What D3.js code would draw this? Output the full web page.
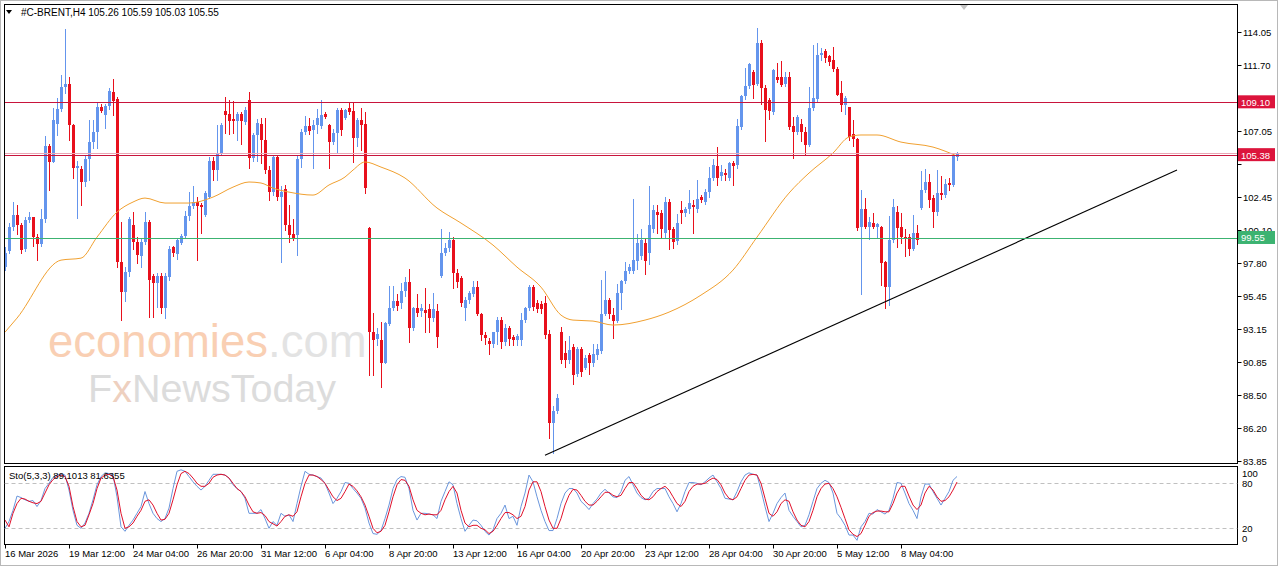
<!DOCTYPE html>
<html><head><meta charset="utf-8">
<script src="https://cdn.jsdelivr.net/npm/d3@7"></script>
<style>body{margin:0;background:#fff}svg{display:block}text{font-family:"Liberation Sans",Arial,sans-serif}</style>
</head><body><svg id="c" width="1280" height="567"></svg>
<script>
// ---------- DATA ----------
const symbol = "#C-BRENT,H4";
const lastBar = [105.26, 105.59, 105.03, 105.55];
const open = [97.5,98.6,100.3,101.15,100.45,98.8,100.85,101.0,99.6,99.1,
100.9,106.0,104.9,107.6,108.6,110.2,110.4,107.5,104.5,104.4,
103.5,105.1,106.3,107.0,108.75,108.2,108.85,109.8,109.3,97.85,
95.75,97.15,100.45,99.3,98.3,99.3,100.7,96.9,96.35,96.9,
94.6,96.8,98.9,98.4,99.2,99.7,101.1,101.8,102.1,101.9,
101.2,102.45,105.0,104.35,105.5,108.5,108.3,107.95,107.8,108.3,
107.7,109.25,105.2,106.8,107.6,106.45,104.35,102.8,105.25,102.4,
103.0,100.45,99.8,99.75,105.1,107.0,107.4,107.15,107.5,107.4,
108.3,107.5,106.3,106.95,108.55,108.0,108.7,108.5,106.6,107.85,
107.6,100.25,92.9,92.45,92.4,90.75,93.5,94.6,95.1,94.95,
95.85,96.45,93.2,94.6,94.4,94.5,94.55,93.9,94.4,96.9,
98.5,98.85,99.4,97.1,96.7,94.65,95.2,95.6,96.1,94.2,
92.75,92.3,92.1,92.9,93.8,92.2,93.2,92.6,92.35,92.4,
93.8,94.6,96.1,94.95,94.9,95.0,92.8,86.5,87.4,92.95,
91.45,90.95,91.9,89.95,91.7,90.4,91.3,90.75,91.3,91.6,
94.2,95.2,94.15,93.7,95.7,96.5,97.2,97.2,97.9,98.3,
99.2,98.5,100.2,101.4,101.3,99.9,102.1,100.15,99.35,101.5,
101.3,101.6,101.85,101.6,102.4,102.1,102.8,103.8,104.65,103.9,
104.1,103.75,104.85,104.7,107.35,109.55,110.25,111.25,110.4,113.25,
110.1,109.25,108.4,110.9,110.85,110.4,110.85,107.4,107.0,107.6,
107.0,106.1,108.7,109.3,112.4,112.7,112.35,112.1,111.45,109.75,
108.9,108.75,106.85,106.55,100.3,101.6,100.3,100.6,100.35,100.3,
97.85,96.1,99.4,101.35,100.3,99.65,99.65,98.8,99.9,101.65,
102.9,103.5,102.35,101.35,102.7,102.6,103.4,103.3,105.26];
const high = [98.9,100.6,102.05,101.85,100.6,101.05,101.4,101.05,99.8,101.6,
106.7,106.2,108.7,109.4,111.0,114.25,110.9,107.6,105.0,104.65,
105.4,107.85,107.85,109.1,109.0,109.0,110.1,110.75,109.5,100.65,
97.5,101.05,101.4,99.6,99.5,101.4,100.8,97.0,97.05,97.05,
97.1,99.0,99.0,99.55,99.8,101.45,102.8,103.2,102.4,102.0,
102.85,105.25,105.25,107.5,107.65,109.45,109.25,109.2,108.4,108.4,
108.8,109.8,106.95,107.9,108.0,108.0,104.6,105.4,105.4,103.2,
103.3,101.9,100.9,105.4,107.2,108.15,108.0,107.85,108.65,109.25,
108.4,107.6,107.2,108.7,108.7,108.6,109.1,109.1,108.0,108.7,
108.4,100.3,94.3,93.2,93.6,93.6,96.2,96.2,95.6,96.35,
96.8,97.4,94.7,95.6,94.9,96.0,94.9,95.7,94.9,100.2,
99.2,100.0,99.6,97.35,96.9,95.4,95.8,96.5,96.5,94.3,
92.9,92.5,92.9,94.0,94.0,93.5,93.35,92.7,92.8,94.25,
94.7,96.25,96.25,95.2,95.1,95.45,93.1,87.75,88.6,93.3,
92.3,92.65,92.1,91.85,91.85,91.3,91.45,92.1,92.1,96.6,
97.2,95.35,94.65,96.3,96.6,97.85,97.7,102.3,99.85,100.2,
99.5,103.2,101.85,101.9,101.5,102.45,102.3,100.35,101.25,102.15,
101.75,102.95,102.2,103.6,102.6,103.0,104.55,105.1,105.95,104.7,
104.4,104.9,105.0,107.95,109.65,111.5,111.9,111.4,114.3,113.5,
110.3,109.4,111.45,111.85,112.0,111.25,111.25,108.1,108.2,107.95,
107.35,110.2,113.1,113.3,112.9,112.85,112.45,113.0,111.6,110.6,
109.55,108.75,107.85,106.6,102.9,102.35,101.0,101.3,100.6,100.4,
97.9,101.1,102.3,101.8,101.3,100.2,99.8,101.2,100.45,104.3,
104.4,104.05,102.6,104.35,103.9,103.7,103.8,105.5,105.59];
const low = [97.3,98.5,100.1,99.8,98.5,98.6,100.65,99.0,98.0,99.0,
100.7,102.9,104.9,106.8,108.5,109.75,106.45,103.8,100.95,101.9,
103.2,103.6,105.9,105.9,108.4,107.3,108.6,108.2,97.5,93.75,
95.1,96.9,98.8,97.8,97.5,99.1,94.0,94.0,94.7,94.3,
93.9,96.6,98.3,98.1,99.1,99.6,100.8,101.65,98.0,99.9,
101.1,102.35,103.6,103.6,105.4,106.95,106.9,106.95,106.45,106.2,
107.55,104.5,105.0,105.0,104.8,104.1,102.2,102.6,102.2,97.85,
100.1,99.3,99.4,98.35,104.55,106.9,106.85,104.5,106.95,107.3,
108.0,104.5,106.15,105.5,106.8,107.9,108.3,104.9,106.0,105.75,
102.7,89.9,89.9,92.0,89.05,90.75,93.4,94.45,94.45,94.6,
95.5,92.2,93.1,94.05,94.05,92.9,92.9,93.7,91.9,96.8,
98.35,98.65,96.0,96.1,94.75,93.75,95.0,95.45,94.1,92.35,
92.1,91.4,91.9,92.1,91.8,92.0,92.0,92.0,92.0,92.0,
93.6,94.45,94.5,94.35,94.3,92.5,85.5,84.4,87.2,90.75,
90.5,90.75,89.25,89.85,89.85,90.3,90.0,90.55,91.0,91.45,
94.1,93.95,92.5,93.6,94.55,96.35,97.05,97.05,97.4,98.1,
97.0,97.75,100.0,99.9,99.6,99.65,98.8,98.85,99.15,100.6,
101.1,101.3,99.9,101.4,102.1,101.95,102.45,103.6,103.3,103.6,
103.6,103.6,103.3,104.5,107.2,109.3,110.1,109.4,110.3,109.0,
106.4,107.9,108.25,110.5,110.25,110.25,107.2,105.2,106.85,106.4,
105.4,106.0,108.55,109.2,112.1,111.95,111.7,111.3,109.6,108.5,
108.3,106.45,106.0,100.1,95.6,100.25,99.5,100.25,99.6,96.25,
94.6,94.8,99.3,98.9,99.2,98.3,98.35,98.7,99.1,101.6,
102.8,101.7,100.3,101.2,102.3,102.4,102.9,103.2,105.03];
const close = [98.5,100.3,101.15,100.45,98.7,100.85,101.0,99.6,99.1,100.9,
106.0,104.9,107.85,108.6,110.2,110.4,107.5,104.5,104.6,103.5,
105.1,106.3,107.0,108.75,108.5,108.85,109.9,109.2,97.85,95.75,
97.15,100.9,99.25,98.35,99.3,100.7,96.6,96.4,96.9,94.6,
96.85,98.8,98.5,99.4,99.7,101.1,101.8,102.05,101.8,101.75,
102.7,105.0,104.35,105.55,107.5,108.2,107.8,107.8,108.3,107.8,
108.55,105.2,106.8,107.65,106.45,104.35,102.8,105.25,102.4,102.8,
100.45,99.75,99.5,105.1,107.0,107.4,107.1,107.5,108.0,108.2,
108.1,106.3,106.95,108.55,107.15,108.55,108.4,106.6,107.85,107.5,
103.05,92.9,92.4,92.8,90.75,93.55,94.6,95.1,94.75,95.85,
96.45,93.2,94.6,94.25,94.65,94.25,93.9,94.55,92.6,98.5,
98.85,99.4,97.1,96.45,95.0,95.2,95.65,96.1,94.2,92.7,
92.5,92.1,92.9,93.8,92.2,93.2,92.45,92.4,92.65,93.8,
94.6,96.1,94.7,94.55,94.55,92.7,86.5,87.4,88.3,90.95,
90.95,91.65,89.9,91.7,90.1,91.1,90.75,91.35,91.75,94.2,
95.2,94.2,93.7,95.7,96.5,97.2,97.5,98.0,99.2,99.4,
97.95,100.45,101.5,101.2,100.2,102.1,100.1,99.3,100.6,101.3,
101.6,102.0,101.7,102.3,102.2,102.8,103.8,104.7,103.75,104.2,
103.95,104.8,104.6,107.4,109.55,110.25,111.8,110.3,113.25,110.1,
108.55,108.5,111.35,110.65,110.35,110.85,107.35,107.0,108.05,107.0,
106.1,108.7,109.4,112.4,112.55,112.25,111.95,111.45,109.65,108.9,
109.4,106.65,106.55,100.25,101.6,100.3,100.65,100.35,100.5,97.8,
96.1,99.4,101.7,100.25,99.6,99.5,98.8,99.9,99.4,102.9,
103.5,102.2,101.35,102.7,102.55,103.35,103.25,105.3,105.55];

// Moving average (orange), read at sampled bars
const maBars = [0,3,14,19,23,28,32,35,40,46,52,57,61,64,67,71,77,81,85,87,90,94,100,108,114,122,128,134,139,142,147,152,160,166,174,182,188,196,201,207,211,214,218,224,232,238];
const maVals = [92.92,93.91,97.99,98.13,99.61,101.37,102.08,102.36,102.01,102.01,102.43,103.13,103.49,103.42,103.06,102.78,102.57,103.28,103.84,104.33,104.90,104.54,103.77,101.66,100.60,99.05,97.50,96.09,94.12,93.77,93.70,93.42,93.77,94.33,95.53,97.29,99.61,102.71,104.12,105.53,106.66,106.80,106.80,106.30,105.95,105.32];

// Stochastic (5,3,3)
const stochK = [20,29,44,63,61,58,56,57,49,57,73,80,88,91,92,91,71,44,24,20,27,40,58,78,89,94,93,91,62,22,16,24,31,40,49,69,53,40,33,29,33,47,73,96,98,96,89,82,76,71,76,84,92,92,92,91,87,78,73,69,60,40,40,40,45,33,20,29,24,40,36,38,29,53,76,96,92,91,89,87,80,67,53,60,69,81,80,73,67,60,47,27,13,12,17,33,51,73,85,89,88,73,44,31,
40,40,39,38,33,56,69,82,78,53,33,16,24,31,30,24,16,11,18,33,40,51,33,36,24,49,67,91,82,62,44,29,17,17,33,53,67,73,73,67,56,51,45,53,59,67,72,67,62,61,69,84,89,78,67,61,58,60,69,73,73,73,62,53,42,53,69,81,81,80,78,82,87,91,82,73,60,59,58,69,82,91,94,92,91,71,49,29,40,53,61,67,44,36,29,22,24,38,56,73,80,84,81,67,40,
33,24,11,11,4,22,29,40,39,45,42,39,44,60,81,80,67,53,44,33,62,79,79,69,60,51,60,69,84,89.1013];
const stochD = [31,22,40,53,60,59,56,54,53,56,67,78,85,89,91,89,76,49,29,22,24,38,53,73,87,91,92,89,71,40,20,22,27,36,44,56,58,51,40,31,32,40,58,78,93,96,93,87,80,76,76,80,88,91,92,91,87,80,73,69,62,51,42,40,41,37,29,26,23,29,36,38,36,42,62,80,91,91,89,85,80,71,62,57,60,69,79,76,70,62,51,36,20,14,16,24,42,62,78,85,84,76,58,44,
40,38,39,38,38,44,58,69,76,67,44,27,22,24,24,20,18,13,16,24,33,41,41,38,33,36,49,71,82,82,69,49,31,20,20,33,51,64,72,71,64,56,51,51,56,62,68,68,64,62,64,73,81,81,73,64,59,58,62,69,73,76,71,62,53,49,56,69,76,79,79,80,84,87,85,78,67,60,58,62,73,84,91,92,91,80,60,40,36,42,53,58,56,42,31,24,22,29,44,62,73,79,80,73,62,
48,33,18,12,9,13,24,36,41,43,43,42,42,53,67,76,76,63,51,45,51,67,76,71,62,56,57,62,71,81.6355];

// Levels & trend line
const levelVals = [109.10, 105.38, 99.55];
const levelColors = ["#c8143c", "#c8143c", "#3cb371"];
const levelBoxColors = ["#dc143c", "#dc143c", "#3cb371"];
const trendBars = [135, 293];
const trendVals = [84.26, 104.33];

// Axis ticks
const priceTicks = [114.05,111.70,109.40,107.05,104.75,102.45,100.10,97.80,95.45,93.15,90.85,88.50,86.20,83.85];
const stochTicks = [100,80,20,0];
const stochLevels = [80,20];
const timeBars = [0,16,32,48,64,80,96,112,128,144,160,176,192,208,224];
const timeLabels = ["16 Mar 2026","19 Mar 12:00","24 Mar 04:00","26 Mar 20:00","31 Mar 12:00","6 Apr 04:00","8 Apr 20:00","13 Apr 12:00","16 Apr 04:00","20 Apr 20:00","23 Apr 12:00","28 Apr 04:00","30 Apr 20:00","5 May 12:00","8 May 04:00"];

// ---------- DRAW ----------
const svg = d3.select("#c");
const L = 4.5, R = 1237.5, MT = 4.5, MB = 463.5, ST = 466.5, SB = 544.5;
const x = d3.scaleLinear().domain([0, 238]).range([5, 957]);
const y = d3.scaleLinear().domain([83.85, 114.05]).range([461, 32]);
const ys = d3.scaleLinear().domain([0, 100]).range([543.3, 468.3]);
const BULL = "#6495ed", BEAR = "#e8101c";

svg.append("rect").attr("width",1280).attr("height",567).attr("fill","#fff");
svg.append("rect").attr("x",0.5).attr("y",0.5).attr("width",1277).attr("height",565)
  .attr("fill","none").attr("stroke","#b8b8b8");

const defs = svg.append("defs");
defs.append("clipPath").attr("id","cm").append("rect").attr("x",L).attr("y",MT).attr("width",R-L).attr("height",MB-MT);
defs.append("clipPath").attr("id","cs").append("rect").attr("x",L).attr("y",ST).attr("width",R-L).attr("height",SB-ST);

const gm = svg.append("g").attr("clip-path","url(#cm)");

// watermark
const wm1 = gm.append("text").attr("x",48).attr("y",356.5).attr("font-size",45.5).attr("font-family","Liberation Sans, Arial");
wm1.append("tspan").attr("fill","#f9cfb3").text("economies");
wm1.append("tspan").attr("fill","#e3e3e3").text(".com");
const wm2 = gm.append("text").attr("x",88).attr("y",402).attr("font-size",39.5).attr("font-family","Liberation Sans, Arial");
wm2.append("tspan").attr("fill","#dcdcdc").text("F");
wm2.append("tspan").attr("fill","#eed0bf").text("x");
wm2.append("tspan").attr("fill","#dcdcdc").text("NewsToday");

// candles
const idx = d3.range(open.length);
const cg = gm.append("g").attr("shape-rendering","crispEdges");
cg.selectAll("line.w").data(idx).join("line").attr("class","w")
  .attr("x1",i=>Math.round(x(i))+0.5).attr("x2",i=>Math.round(x(i))+0.5)
  .attr("y1",i=>Math.round(y(high[i]))).attr("y2",i=>Math.round(y(low[i]))+1)
  .attr("stroke",i=>close[i]>=open[i]?BULL:BEAR).attr("stroke-width",1);
cg.selectAll("rect.b").data(idx).join("rect").attr("class","b")
  .attr("x",i=>Math.round(x(i))-1).attr("width",3)
  .attr("y",i=>Math.round(y(Math.max(open[i],close[i]))))
  .attr("height",i=>Math.max(1,Math.round(y(Math.min(open[i],close[i])))-Math.round(y(Math.max(open[i],close[i])))))
  .attr("fill",i=>close[i]>=open[i]?BULL:BEAR);

// MA
gm.append("path").datum(maBars.map((b,k)=>[b,maVals[k]]))
  .attr("d",d3.line().x(d=>x(d[0])).y(d=>y(d[1])).curve(d3.curveMonotoneX))
  .attr("fill","none").attr("stroke","#f0a030").attr("stroke-width",1);

// trend line
gm.append("line").attr("x1",x(trendBars[0])).attr("y1",y(trendVals[0]))
  .attr("x2",x(trendBars[1])).attr("y2",y(trendVals[1])).attr("stroke","#000").attr("stroke-width",1.1);

// levels
levelVals.forEach((v,k)=>{
  const yy = Math.round(y(v))+0.5;
  gm.append("line").attr("x1",L).attr("x2",R).attr("y1",yy).attr("y2",yy).attr("stroke",levelColors[k]).attr("stroke-width",1);
});
// bid line
const bidY = Math.round(y(lastBar[3]))+0.5;
gm.append("line").attr("x1",L).attr("x2",R).attr("y1",bidY).attr("y2",bidY).attr("stroke","#eaa6b6").attr("stroke-width",1);

// frames
svg.append("rect").attr("x",L).attr("y",MT).attr("width",R-L).attr("height",MB-MT).attr("fill","none").attr("stroke","#000");
svg.append("rect").attr("x",L).attr("y",ST).attr("width",R-L).attr("height",SB-ST).attr("fill","none").attr("stroke","#000");

// shift marker
svg.append("path").attr("d","M960,5 L968,5 L964,10 Z").attr("fill","#c4c4c4");

// header
svg.append("path").attr("d","M6,10 L12,10 L9,14 Z").attr("fill","#000");
svg.append("text").attr("x",21).attr("y",16).attr("font-size",10).attr("fill","#000")
  .text(symbol + "  " + lastBar.map(v=>v.toFixed(2)).join(" "));

// price axis (ticks hidden behind level boxes keep only the visible sliver)
const pa = svg.append("g");
priceTicks.forEach(v=>{
  const yy = Math.round(y(v))+0.5;
  pa.append("line").attr("x1",R).attr("x2",R+4).attr("y1",yy).attr("y2",yy).attr("stroke","#000");
  const lv = levelVals.find(lv=>Math.abs(y(lv)-y(v))<10);
  const t = pa.append("text").attr("x",1243).attr("y",yy+3.5).attr("font-size",9.5).attr("fill","#000").text(v.toFixed(2));
  if (lv !== undefined) {
    const top = y(lv)-7;
    const cid = "tc"+String(v).replace(".","_");
    defs.append("clipPath").attr("id",cid).append("rect").attr("x",1238).attr("y",yy-8).attr("width",42).attr("height",Math.max(0,top-(yy-8)));
    t.attr("clip-path","url(#"+cid+")");
  }
});
// level labels
levelVals.forEach((v,k)=>{
  const yy = y(v);
  svg.append("rect").attr("x",1238).attr("y",yy-7).attr("width",37).attr("height",13).attr("fill",levelBoxColors[k]);
  svg.append("text").attr("x",1241).attr("y",yy+3.5).attr("font-size",9.5).attr("fill","#fff").text(v.toFixed(2));
});

// stochastic panel
const gs = svg.append("g").attr("clip-path","url(#cs)");
stochLevels.forEach(v=>{
  const yy = Math.round(ys(v))+0.5;
  gs.append("line").attr("x1",L).attr("x2",R).attr("y1",yy).attr("y2",yy)
    .attr("stroke","#c0c0c0").attr("stroke-dasharray","4,3");
});
const sl = d3.line().x((d,i)=>x(i)).y(d=>ys(d));
gs.append("path").datum(stochK).attr("d",sl).attr("fill","none").attr("stroke","#6a96dc").attr("stroke-width",1);
gs.append("path").datum(stochD).attr("d",sl).attr("fill","none").attr("stroke","#e0102a").attr("stroke-width",1);
svg.append("text").attr("x",9).attr("y",479).attr("font-size",9.5).attr("fill","#000")
  .text("Sto(5,3,3) " + stochK[stochK.length-1].toFixed(4) + " " + stochD[stochD.length-1].toFixed(4));
stochTicks.forEach(v=>{
  const yy = Math.min(538, Math.max(473, ys(v)));
  svg.append("text").attr("x",1242).attr("y",yy+3.5).attr("font-size",9.5).attr("fill","#000").text(v);
});

// time axis
timeBars.forEach((b,k)=>{
  const xx = Math.round(x(b))+0.5;
  svg.append("line").attr("x1",xx).attr("x2",xx).attr("y1",SB).attr("y2",SB+4).attr("stroke","#000");
  svg.append("text").attr("x",xx-0.5).attr("y",557).attr("font-size",9.5).attr("fill","#000").text(timeLabels[k]);
});
</script></body></html>
